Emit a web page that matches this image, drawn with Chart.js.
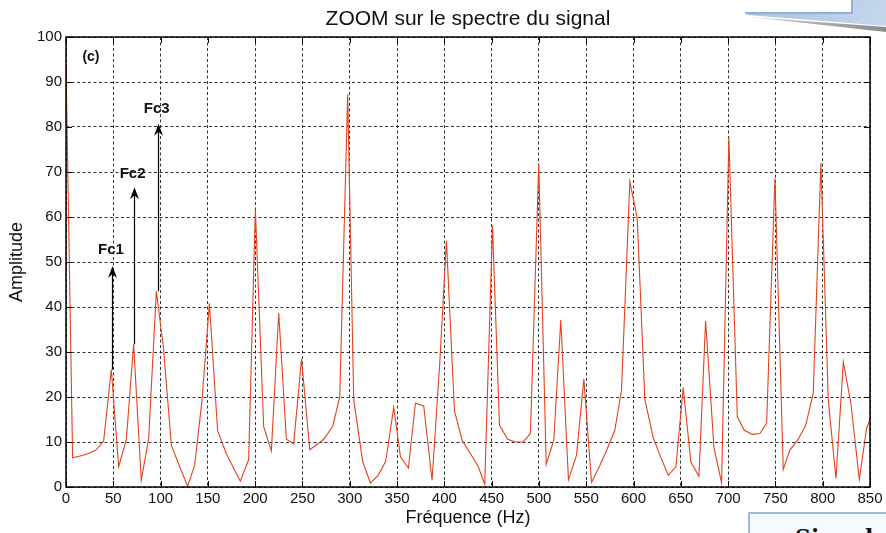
<!DOCTYPE html>
<html>
<head>
<meta charset="utf-8">
<script src="https://cdn.jsdelivr.net/npm/chart.js@4"></script>
<style>
  html, body { margin: 0; padding: 0; background: #fff; overflow: hidden; }
  #wrap { position: relative; width: 886px; height: 533px; }
  #note { position: absolute; left: 748px; top: 512px; width: 150px; height: 40px;
          border: 2px solid #9db9de; background: #f6f9fd; box-sizing: border-box; overflow: hidden; }
  #note span { position: absolute; left: 45px; top: 10px; font: bold 22px 'DejaVu Serif', serif; color: #111; }
</style>
</head>
<body>
<div id="wrap">
  <canvas id="spectrum" width="886" height="533"></canvas>
  <div id="note"><span>Signal</span></div>
</div>
<script>
// Spectrum values (Hz, amplitude)
const freqs = [0, 7, 15, 23, 31.7, 39.8, 47.9, 55.7, 63.8, 71.5, 79.6, 87.4, 95.5, 103, 111.4,
  120.9, 128.6, 136, 143.8, 151.6, 160.3, 169.5, 177, 184.3, 193.1, 200.2, 209, 217.1, 224.9,
  233, 240.7, 249, 257.7, 265, 272.5, 282, 289.4, 297.8, 304.2, 313.7, 321.8, 330, 338, 346.5,
  353.6, 362, 369.4, 378.2, 387, 395, 402.2, 410.7, 418.8, 427.6, 435.7, 442.7, 450.9, 458.3,
  467, 475.2, 483.3, 491, 499.8, 507.7, 515.7, 523.1, 531.2, 539.7, 547.5, 555.6, 564.4, 572.2,
  580.2, 587.3, 596.1, 603.9, 612, 620.8, 628.6, 636.7, 644.8, 652.5, 660.6, 669.1, 676.2, 685,
  693.1, 700.8, 709.7, 717.1, 725.5, 733.6, 740.7, 749.5, 758.3, 765.3, 773.5, 782, 790, 798.1,
  805.9, 814, 821.8, 829.8, 838.7, 846.4, 852];
const amps = [94, 6.5, 6.9, 7.4, 8.2, 10.2, 26.1, 4.5, 10.6, 31.7, 1.5, 10.8, 43.5, 31, 9.3,
  4.1, 0.2, 4.8, 19.3, 40.8, 12.5, 7.4, 4.3, 1.3, 6.1, 61.7, 13.4, 8.0, 38.6,
  10.6, 9.6, 28.5, 8.3, 9.4, 10.6, 13.5, 20, 87.3, 19.3, 5.6, 0.9, 2.6, 5.7, 17.7,
  6.7, 4.2, 18.6, 18, 1.5, 27, 54.7, 16.9, 10.4, 7.4, 4.6, 0.6, 58, 13.7,
  10.6, 10, 10, 11.9, 71.8, 5, 10.4, 37.1, 1.6, 7.1, 24, 1, 4.8, 8.5,
  12.6, 21.5, 67.9, 59.7, 19.4, 11, 6.7, 2.6, 4.5, 22.1, 5.6, 2.4, 36.9, 8.8,
  0.9, 77.8, 15.6, 12.6, 11.7, 11.9, 14.1, 68.6, 3.9, 8.2, 10.4, 13.7, 20.8, 72,
  19.3, 1.9, 27.8, 18.6, 1.7, 13, 16.3];

const xTicks = [0, 50, 100, 150, 200, 250, 300, 350, 400, 450, 500, 550, 600, 650, 700, 750, 800, 850];
const yTicks = [0, 10, 20, 30, 40, 50, 60, 70, 80, 90, 100];

// carrier arrows
const arrowLabels = ['Fc1', 'Fc2', 'Fc3'];
const arrowFreqs = [48.6, 71.5, 96.9];
const arrowFrom = [26.1, 31.7, 43.5];
const arrowTo = [49.1, 66.6, 80.7];
const labelAmps = [52.8, 69.6, 84];

const FONT = "'Liberation Sans', Arial, sans-serif";

const overlay = {
  id: 'overlay',
  afterDraw(chart) {
    const { ctx, chartArea: a, scales: { x, y } } = chart;
    ctx.save();

    // axes box
    ctx.strokeStyle = '#000';
    ctx.lineWidth = 1.5;
    ctx.strokeRect(a.left, a.top, a.right - a.left, a.bottom - a.top);

    // inward tick marks
    ctx.lineWidth = 1;
    ctx.beginPath();
    xTicks.forEach(v => {
      const px = Math.round(x.getPixelForValue(v)) + 0.5;
      ctx.moveTo(px, a.bottom); ctx.lineTo(px, a.bottom - 6);
      ctx.moveTo(px, a.top); ctx.lineTo(px, a.top + 6);
    });
    yTicks.forEach(v => {
      const py = Math.round(y.getPixelForValue(v)) + 0.5;
      ctx.moveTo(a.left, py); ctx.lineTo(a.left + 6, py);
      ctx.moveTo(a.right, py); ctx.lineTo(a.right - 6, py);
    });
    ctx.stroke();

    // title
    ctx.fillStyle = '#111';
    ctx.font = '21px ' + FONT;
    ctx.textAlign = 'center';
    ctx.textBaseline = 'middle';
    ctx.fillText('ZOOM sur le spectre du signal', (a.left + a.right) / 2, 19);

    // panel tag
    ctx.font = 'bold 14px ' + FONT;
    ctx.fillText('(c)', x.getPixelForValue(26.4), y.getPixelForValue(95.6));

    // arrows + labels
    arrowLabels.forEach((lab, i) => {
      const px = Math.round(x.getPixelForValue(arrowFreqs[i])) + 0.5;
      const y0 = y.getPixelForValue(arrowFrom[i]);
      const tip = y.getPixelForValue(arrowTo[i]);
      ctx.strokeStyle = '#000';
      ctx.lineWidth = 1.2;
      ctx.beginPath();
      ctx.moveTo(px, y0);
      ctx.lineTo(px, tip + 6);
      ctx.stroke();
      ctx.fillStyle = '#000';
      ctx.beginPath();
      ctx.moveTo(px, tip);
      ctx.lineTo(px - 4.5, tip + 12);
      ctx.lineTo(px, tip + 8);
      ctx.lineTo(px + 4.5, tip + 12);
      ctx.closePath();
      ctx.fill();
      ctx.font = 'bold 15px ' + FONT;
      ctx.fillStyle = '#111';
      ctx.fillText(lab, x.getPixelForValue(arrowFreqs[i]) - 1, y.getPixelForValue(labelAmps[i]));
    });

    // callout shape clipped in the top right corner
    const g = ctx.createLinearGradient(745, 0, 886, 30);
    g.addColorStop(0, '#a9c2e2');
    g.addColorStop(1, '#c6d7ec');
    ctx.fillStyle = g;
    ctx.beginPath();
    ctx.moveTo(745, 12);
    ctx.lineTo(852, 12);
    ctx.lineTo(852, 0);
    ctx.lineTo(886, 0);
    ctx.lineTo(886, 26);
    ctx.lineTo(748, 15);
    ctx.closePath();
    ctx.fill();
    ctx.strokeStyle = '#8eb0da';
    ctx.lineWidth = 2;
    ctx.beginPath();
    ctx.moveTo(745, 13);
    ctx.lineTo(852, 13);
    ctx.lineTo(852, 0);
    ctx.stroke();
    const sh = ctx.createLinearGradient(748, 0, 886, 0);
    sh.addColorStop(0, 'rgba(120,120,120,0.35)');
    sh.addColorStop(1, 'rgba(110,110,110,0.8)');
    ctx.fillStyle = sh;
    ctx.beginPath();
    ctx.moveTo(750, 17);
    ctx.lineTo(886, 27);
    ctx.lineTo(886, 32);
    ctx.closePath();
    ctx.fill();

    ctx.restore();
  }
};

new Chart(document.getElementById('spectrum'), {
  type: 'line',
  data: {
    datasets: [{
      data: freqs.map((f, i) => ({ x: f, y: amps[i] })),
      borderColor: '#e3421b',
      borderWidth: 1.1,
      pointRadius: 0,
      tension: 0,
      fill: false
    }]
  },
  options: {
    responsive: false,
    animation: false,
    layout: { padding: { top: 37, right: 16, left: 0, bottom: 0 } },
    plugins: { legend: { display: false }, tooltip: { enabled: false }, title: { display: false } },
    scales: {
      x: {
        type: 'linear',
        min: 0,
        max: 850,
        afterBuildTicks: s => { s.ticks = xTicks.map(v => ({ value: v })); },
        afterFit: s => { s.height = 46; },
        grid: { color: '#333', lineWidth: 1, drawTicks: false },
        border: { display: false, dash: [3, 2.5] },
        ticks: { color: '#111', font: { size: 15, family: FONT }, padding: 3, maxRotation: 0 },
        title: { display: true, text: 'Fréquence (Hz)', color: '#111',
                 font: { size: 18, family: FONT }, padding: { top: 0, bottom: 4 } }
      },
      y: {
        min: 0,
        max: 100,
        afterBuildTicks: s => { s.ticks = yTicks.map(v => ({ value: v })); },
        afterFit: s => { s.width = 66; },
        grid: { color: '#333', lineWidth: 1, drawTicks: false },
        border: { display: false, dash: [3, 2.5] },
        ticks: { color: '#111', font: { size: 15, family: FONT }, padding: 4 },
        title: { display: true, text: 'Amplitude', color: '#111',
                 font: { size: 18, family: FONT }, padding: { top: 6, bottom: 0 } }
      }
    }
  },
  plugins: [overlay]
});
</script>
</body>
</html>
